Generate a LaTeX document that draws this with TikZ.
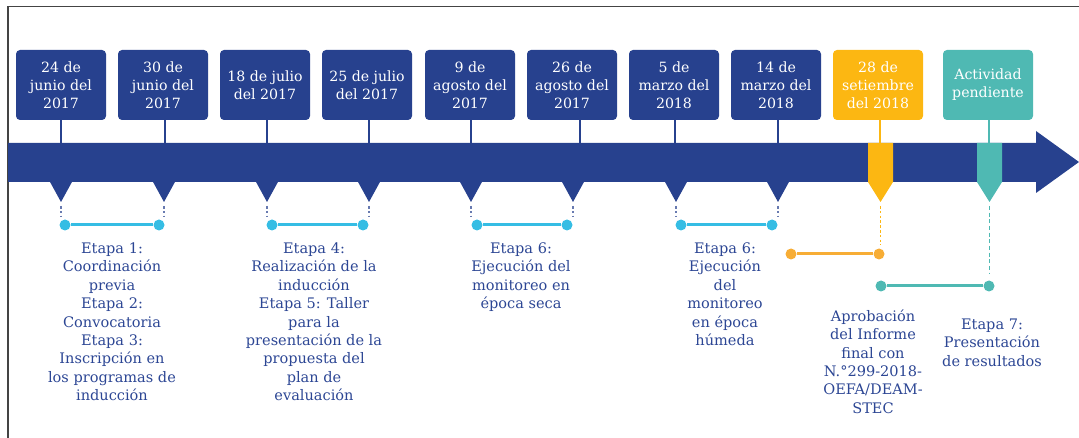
\documentclass[tikz,border=0pt]{standalone}
\usepackage{fontspec}
\setmainfont{DejaVu Serif}
\definecolor{navy}{HTML}{27418E}
\definecolor{labelblue}{HTML}{2C4694}
\definecolor{ambar}{HTML}{FCB712}
\definecolor{ambdot}{HTML}{F7AD35}
\definecolor{turq}{HTML}{4FB9B3}
\definecolor{celeste}{HTML}{35BDE4}
\definecolor{framegray}{HTML}{444444}
\begin{document}
\begin{tikzpicture}[x=0.75pt,y=-0.75pt,
  datebox/.style={fill=#1, rounded corners=3pt, minimum width=67.5pt, minimum height=52.5pt,
    inner sep=0pt, text=white, align=center, font=\fontsize{10.6}{13.5}\selectfont},
  datebox/.default=navy,
  stem/.style={line width=1.5pt},
  stage/.style={text=labelblue, align=center, anchor=north, inner sep=0pt,
    font=\fontsize{10.9}{13.8}\selectfont},
  dot/.style={circle, fill=#1, minimum size=8.25pt, inner sep=0pt},
  link/.style={line width=2.25pt},
  guide/.style={line width=0.9pt, dash pattern=on 2pt off 1.6pt}]
\useasboundingbox (0,0) rectangle (1079,438);
% frame
\draw[framegray, line width=0.9pt] (8,438) -- (8,6.5) -- (1079,6.5);
% main arrow
\fill[navy] (8,143) -- (1036,143) -- (1036,131) -- (1079,162) -- (1036,193) -- (1036,182) -- (8,182) -- cycle;
% date boxes
\node[datebox] (d1) at (61,85) {24 de\\junio del\\2017};
\node[datebox] (d2) at (163,85) {30 de\\junio del\\2017};
\node[datebox] (d3) at (265,85) {18 de julio\\del 2017};
\node[datebox] (d4) at (367,85) {25 de julio\\del 2017};
\node[datebox] (d5) at (470,85) {9 de\\agosto del\\2017};
\node[datebox] (d6) at (572,85) {26 de\\agosto del\\2017};
\node[datebox] (d7) at (674,85) {5 de\\marzo del\\2018};
\node[datebox] (d8) at (776,85) {14 de\\marzo del\\2018};
\node[datebox=ambar] (d9) at (878,85) {28 de\\setiembre\\del 2018};
\node[datebox=turq] (d10) at (988,85) {Actividad\\pendiente};
% stem ends on the bar
\coordinate (t1) at (61,143);
\coordinate (t2) at (165,143);
\coordinate (t3) at (267,143);
\coordinate (t4) at (369,143);
\coordinate (t5) at (471,143);
\coordinate (t6) at (580,143);
\coordinate (t7) at (675,143);
\coordinate (t8) at (778,143);
\coordinate (t9) at (880,145);
\coordinate (t10) at (989,145);
\foreach \i in {1,...,8} \draw[stem, navy] (d\i.south -| t\i) -- (t\i);
\draw[stem, ambar] (d9.south -| t9) -- (t9);
\draw[stem, turq] (d10.south -| t10) -- (t10);
% pointers
\foreach \x in {61,164,267,369,471,573,676,778}
  \fill[navy] (\x-11.5,181) -- (\x+11.5,181) -- (\x,202) -- cycle;
\fill[ambar] (868,143) -- (893,143) -- (893,182) -- (880.5,202) -- (868,182) -- cycle;
\fill[turq] (977,143) -- (1002,143) -- (1002,182) -- (989.5,202) -- (977,182) -- cycle;
% guides
\foreach \x in {61,164,267,369,471,573,676,778}
  \draw[guide, navy!70] (\x,206) -- (\x,217);
\draw[guide, ambar] (880.5,206) -- (880.5,245);
\draw[guide, turq, dash pattern=on 3pt off 2pt] (989.5,206) -- (989.5,274);
% dots and links
\node[dot=celeste] (a1) at (65,225) {};
\node[dot=celeste] (a2) at (159,225) {};
\node[dot=celeste] (b1) at (272,225) {};
\node[dot=celeste] (b2) at (363,225) {};
\node[dot=celeste] (c1) at (477,225) {};
\node[dot=celeste] (c2) at (567,225) {};
\node[dot=celeste] (e1) at (681,225) {};
\node[dot=celeste] (e2) at (772,225) {};
\node[dot=ambdot] (y1) at (791,254) {};
\node[dot=ambdot] (y2) at (879,254) {};
\node[dot=turq] (g1) at (881,286) {};
\node[dot=turq] (g2) at (989,286) {};
\draw[link, celeste] (a1) -- (a2);
\draw[link, celeste] (b1) -- (b2);
\draw[link, celeste] (c1) -- (c2);
\draw[link, celeste] (e1) -- (e2);
\draw[link, ambdot] (y1) -- (y2);
\draw[link, turq] (g1) -- (g2);
% stage labels
\node[stage] (l1) at (112,242.5) {Etapa 1:\\Coordinación\\previa\\Etapa 2:\\Convocatoria\\Etapa 3:\\Inscripción en\\los programas de\\inducción};
\node[stage] (l2) at (314,242.5) {Etapa 4:\\Realización de la\\inducción\\Etapa 5: Taller\\para la\\presentación de la\\propuesta del\\plan de\\evaluación};
\node[stage] (l3) at (521,242.5) {Etapa 6:\\Ejecución del\\monitoreo en\\época seca};
\node[stage] (l4) at (725,242.5) {Etapa 6:\\Ejecución\\del\\monitoreo\\en época\\húmeda};
\node[stage] (l5) at (873,309.5) {Aprobación\\del Informe\\final con\\N.°299-2018-\\OEFA/DEAM-\\STEC};
\node[stage] (l6) at (992,318.5) {Etapa 7:\\Presentación\\de resultados};
\end{tikzpicture}
\end{document}
